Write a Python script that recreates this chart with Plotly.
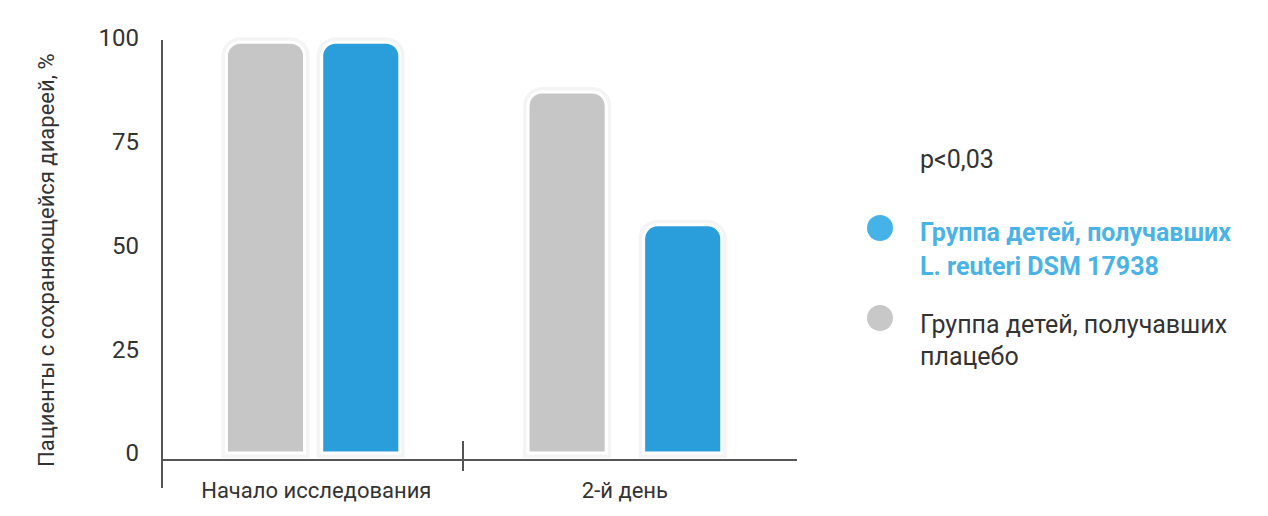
import plotly.graph_objects as go

# data
categories = ["Начало исследования", "2-й день"]
placebo = [99, 87]
reuteri = [99, 55]
yticks = [0, 25, 50, 75, 100]
y_title = "Пациенты с сохраняющейся диареей, %"
p_text = "p<0,03"
legend_reuteri = ["Группа детей, получавших", "L. reuteri DSM 17938"]
legend_placebo = ["Группа детей, получавших", "плацебо"]

# layout (x axis runs 0..10 across the plot)
gray_x = [1.63, 6.38]
blue_x = [3.13, 8.20]
label_x = [2.43, 7.29]
sep_x = 4.74
bar_w = 1.23

GRAY = "#c6c6c6"
BLUE = "#2a9edb"
BLUE_TXT = "#4ab3e6"
DARK = "#333333"
AXIS = "#555555"
FONT = "Roboto"

fig = go.Figure()

# soft shadow behind the bars
for xs, ys in [(gray_x, placebo), (blue_x, reuteri)]:
    fig.add_trace(go.Bar(x=xs, y=ys, width=bar_w,
                         marker=dict(color="rgba(0,0,0,0)",
                                     line=dict(color="rgba(0,0,0,0.045)", width=10)),
                         cliponaxis=False, hoverinfo="skip"))

fig.add_trace(go.Bar(x=gray_x, y=placebo, width=bar_w, name="плацебо",
                     marker=dict(color=GRAY, line=dict(color="white", width=3)),
                     cliponaxis=False))
fig.add_trace(go.Bar(x=blue_x, y=reuteri, width=bar_w, name="L. reuteri DSM 17938",
                     marker=dict(color=BLUE, line=dict(color="white", width=3)),
                     cliponaxis=False))

# page body adds an 8px offset, so the figure is 8px smaller than the window
fig.update_layout(
    width=1260, height=508,
    margin=dict(l=154, r=471, t=22, b=57),
    paper_bgcolor="white", plot_bgcolor="white",
    barmode="overlay", barcornerradius=14,
    showlegend=False,
    font=dict(family=FONT, color=DARK),
)

fig.update_xaxes(range=[0, 10], tickvals=label_x, ticktext=categories,
                 showgrid=False, zeroline=False, showline=True,
                 linecolor=AXIS, linewidth=2, ticks="",
                 tickfont=dict(size=22, color=DARK), ticklabelstandoff=11)
fig.update_yaxes(range=[-1.446, 101.93], tickvals=yticks,
                 showgrid=False, zeroline=False, showline=False, ticks="",
                 tickfont=dict(size=24, color=DARK), ticklabelstandoff=22)

# vertical axis line, extending below the x axis
fig.add_shape(type="line", xref="paper", yref="paper", x0=0, x1=0,
              y0=-0.0676, y1=0.9767, line=dict(color=AXIS, width=2))
# group separator tick
fig.add_shape(type="line", xref="x", yref="paper", x0=sep_x, x1=sep_x,
              y0=-0.028, y1=0.042, line=dict(color=AXIS, width=2))

fig.add_annotation(text=y_title, xref="paper", yref="paper", x=-0.181, y=0.464,
                   xanchor="center", yanchor="middle",
                   textangle=-90, showarrow=False, font=dict(size=22, color=DARK))

# legend block
fig.add_annotation(text=p_text, xref="paper", yref="paper", x=1.1906, y=0.697,
                   xanchor="left", yanchor="middle", showarrow=False,
                   font=dict(size=25, color=DARK))
for line_txt, yy in zip(legend_reuteri, [0.5291, 0.4476]):
    fig.add_annotation(text="<b>" + line_txt + "</b>", xref="paper", yref="paper",
                       x=1.1906, y=yy, xanchor="left", yanchor="middle",
                       showarrow=False, font=dict(size=25, color=BLUE_TXT))
for line_txt, yy in zip(legend_placebo, [0.3124, 0.2378]):
    fig.add_annotation(text=line_txt, xref="paper", yref="paper",
                       x=1.1906, y=yy, xanchor="left", yanchor="middle",
                       showarrow=False, font=dict(size=25, color=DARK))
for col, yy in [("#45b2e8", 0.5385), ("#c8c8c8", 0.3287)]:
    fig.add_shape(type="circle", xref="paper", yref="paper",
                  xsizemode="pixel", ysizemode="pixel",
                  xanchor=1.1307, yanchor=yy, x0=-13, x1=13, y0=-13, y1=13,
                  fillcolor=col, line=dict(width=0))

fig.write_html("out.html")
